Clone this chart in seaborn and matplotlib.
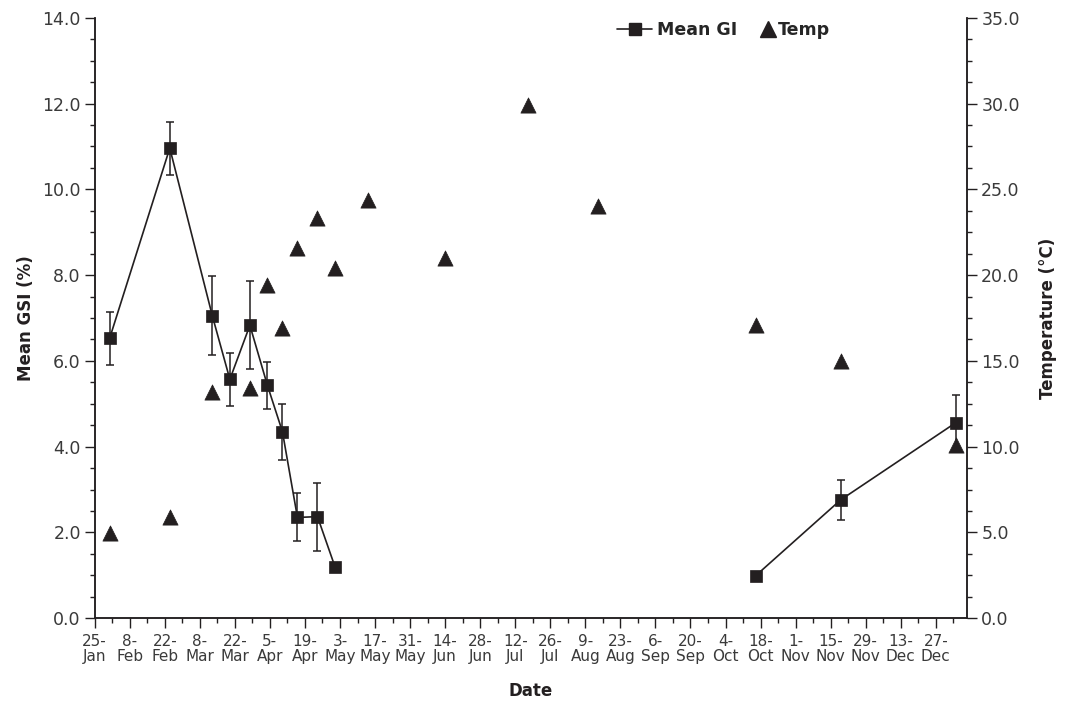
import pandas as pd
import numpy as np
import matplotlib
matplotlib.use('Agg')
import matplotlib.pyplot as plt
from matplotlib.lines import Line2D
from matplotlib.ticker import MultipleLocator, FormatStrFormatter
import seaborn as sns

# --- data ---
gsi_dates = ['2015-01-31', '2015-02-24', '2015-03-13', '2015-03-20', '2015-03-28',
             '2015-04-04', '2015-04-10', '2015-04-16', '2015-04-24', '2015-05-01',
             '2015-10-16', '2015-11-19', '2016-01-04']
gsi_mean = [6.53, 10.96, 7.05, 5.57, 6.83, 5.43, 4.35, 2.35, 2.37, 1.20, 0.99, 2.76, 4.56]
gsi_err = [0.62, 0.62, 0.92, 0.62, 1.03, 0.54, 0.65, 0.56, 0.79, 0.0, 0.0, 0.47, 0.64]
gsi_segment = [0, 0, 0, 0, 0, 0, 0, 0, 0, 0, 1, 1, 1]

temp_dates = ['2015-01-31', '2015-02-24', '2015-03-13', '2015-03-28', '2015-04-04',
              '2015-04-10', '2015-04-16', '2015-04-24', '2015-05-01', '2015-05-14',
              '2015-06-14', '2015-07-17', '2015-08-14', '2015-10-16', '2015-11-19',
              '2016-01-04']
temp_vals = [4.95, 5.9, 13.2, 13.4, 19.4, 16.9, 21.6, 23.3, 20.4, 24.4,
             21.0, 29.9, 24.0, 17.1, 15.0, 10.1]

tick_start = '2015-01-25'
n_ticks = 25

gsi = pd.DataFrame({'Date': pd.to_datetime(gsi_dates), 'GSI': gsi_mean,
                    'err': gsi_err, 'seg': gsi_segment})
temp = pd.DataFrame({'Date': pd.to_datetime(temp_dates), 'Temp': temp_vals})

# --- style ---
sns.set_style('ticks')
plt.rcParams['font.family'] = ['DejaVu Sans']
ink = '#231f20'
label_grey = '#3a3a3a'

fig = plt.figure(figsize=(10.65, 7.11), dpi=100)
ax = fig.add_axes([0.0889, 0.1304, 0.8194, 0.8447])
ax2 = ax.twinx()

# mean GSI line + markers (two separate runs, gap over summer)
sns.lineplot(data=gsi, x='Date', y='GSI', units='seg', estimator=None, ax=ax,
             color=ink, lw=1.2, marker='s', markersize=9, markeredgecolor=ink,
             markeredgewidth=0.5, legend=False)
has_err = gsi['err'] > 0
ax.errorbar(gsi.loc[has_err, 'Date'], gsi.loc[has_err, 'GSI'], yerr=gsi.loc[has_err, 'err'],
            fmt='none', ecolor=ink, elinewidth=1.1, capsize=3, capthick=1.1, zorder=1)

# temperature triangles
sns.scatterplot(data=temp, x='Date', y='Temp', ax=ax2, marker='^', s=120,
                color=ink, edgecolor=ink, linewidth=0.5, legend=False)

# axes limits / ticks
start = pd.Timestamp(tick_start)
ax.set_xlim(start, start + pd.Timedelta(days=348.6))
major = pd.date_range(start, periods=n_ticks, freq='14D')
minor = pd.date_range(start, periods=n_ticks * 2, freq='7D')
ax.set_xticks(major)
ax.set_xticks(minor, minor=True)
ax.set_xticklabels([f"{d.day}-\n{d.strftime('%b')}" for d in major], linespacing=1.05)

ax.set_ylim(0, 14)
ax.yaxis.set_major_locator(MultipleLocator(2))
ax.yaxis.set_minor_locator(MultipleLocator(0.5))
ax.yaxis.set_major_formatter(FormatStrFormatter('%.1f'))
ax2.set_ylim(0, 35)
ax2.yaxis.set_major_locator(MultipleLocator(5))
ax2.yaxis.set_minor_locator(MultipleLocator(1.25))
ax2.yaxis.set_major_formatter(FormatStrFormatter('%.1f'))

for a in (ax, ax2):
    a.spines['top'].set_visible(False)
    for s in a.spines.values():
        s.set_linewidth(1.1)
        s.set_color(ink)
    a.tick_params(which='major', direction='out', length=7, width=1.0, color=ink,
                  labelcolor=label_grey)
    a.tick_params(which='minor', direction='out', length=3.8, width=1.0, color=ink)
ax.tick_params(axis='x', labelsize=11, pad=4)
ax.tick_params(axis='y', labelsize=12.5, pad=3)
ax2.tick_params(axis='y', labelsize=12.5, pad=3)

ax.set_xlabel('Date', fontsize=12, fontweight='bold', color=ink, labelpad=13)
ax.set_ylabel('Mean GSI (%)', fontsize=12, fontweight='bold', color=ink, labelpad=5)
ax2.set_ylabel('Temperature (°C)', fontsize=12, fontweight='bold', color=ink, labelpad=14)

# legend split in two so the triangle sits close to its text
leg_font = {'weight': 'bold', 'size': 12.5}
fig.legend([Line2D([], [], color=ink, lw=1.2, marker='s', markersize=9)], ['Mean GI'],
           loc='center', bbox_to_anchor=(0.636, 0.958), frameon=False,
           handlelength=2.0, handletextpad=0.3, prop=leg_font)
fig.legend([Line2D([], [], color=ink, ls='none', marker='^', markersize=11)], ['Temp'],
           loc='center', bbox_to_anchor=(0.747, 0.958), frameon=False,
           handlelength=0.8, handletextpad=0.2, prop=leg_font)

fig.savefig('out.png', dpi=100)
